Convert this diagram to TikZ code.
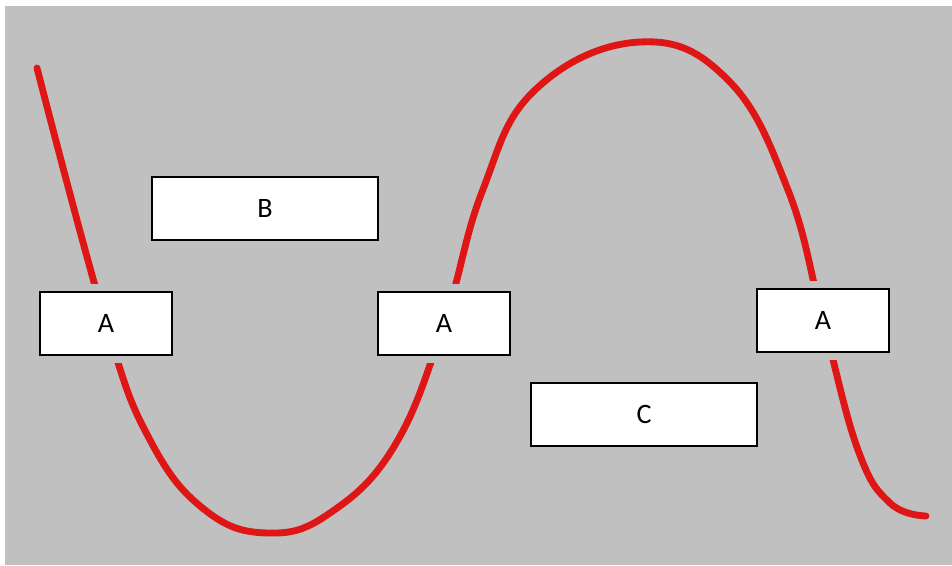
\documentclass[tikz,border=0pt]{standalone}
\usepackage{fontspec}
\setmainfont{Carlito}
\usetikzlibrary{backgrounds}

\definecolor{bggray}{RGB}{192,192,192}
\definecolor{wavered}{RGB}{222,22,22}

\begin{document}
\begin{tikzpicture}[
  x=0.02cm, y=-0.02cm,
  font=\fontsize{16}{19}\selectfont,
  lbl/.style={draw, line width=1.1pt, fill=white, minimum width=132*0.02cm, minimum height=63*0.02cm, inner sep=0pt,
    preaction={draw=bggray, line width=9pt}},
  widelbl/.style={lbl, minimum width=226*0.02cm},
  wave/.style={draw=wavered, line width=3.9pt, line cap=round, line join=round}
]
\useasboundingbox (0,0) rectangle (952,565);

% labelled boxes
\node[lbl] (a1) at (106,323.5) {A};
\node[lbl] (a2) at (444,323.5) {A};
\node[lbl] (a3) at (823,320.5) {A};
\node[widelbl] (b) at (265,208.5) {B};
\node[widelbl] (c) at (644,414.5) {C};

\begin{scope}[on background layer]
  \fill[bggray] (5,6) rectangle (952,565);
  % the wave runs through the three A boxes
  \draw[wave] plot[smooth, tension=0.7] coordinates {
    (37,68) (a1.center) (150,440) (205,510) (268,533) (330,513) (395,445) (a2.center)
    (482,192) (535,90) (640,42) (728,80) (788,190) (a3.center) (858,450) (890,503) (926,516)};
\end{scope}

\end{tikzpicture}
\end{document}
